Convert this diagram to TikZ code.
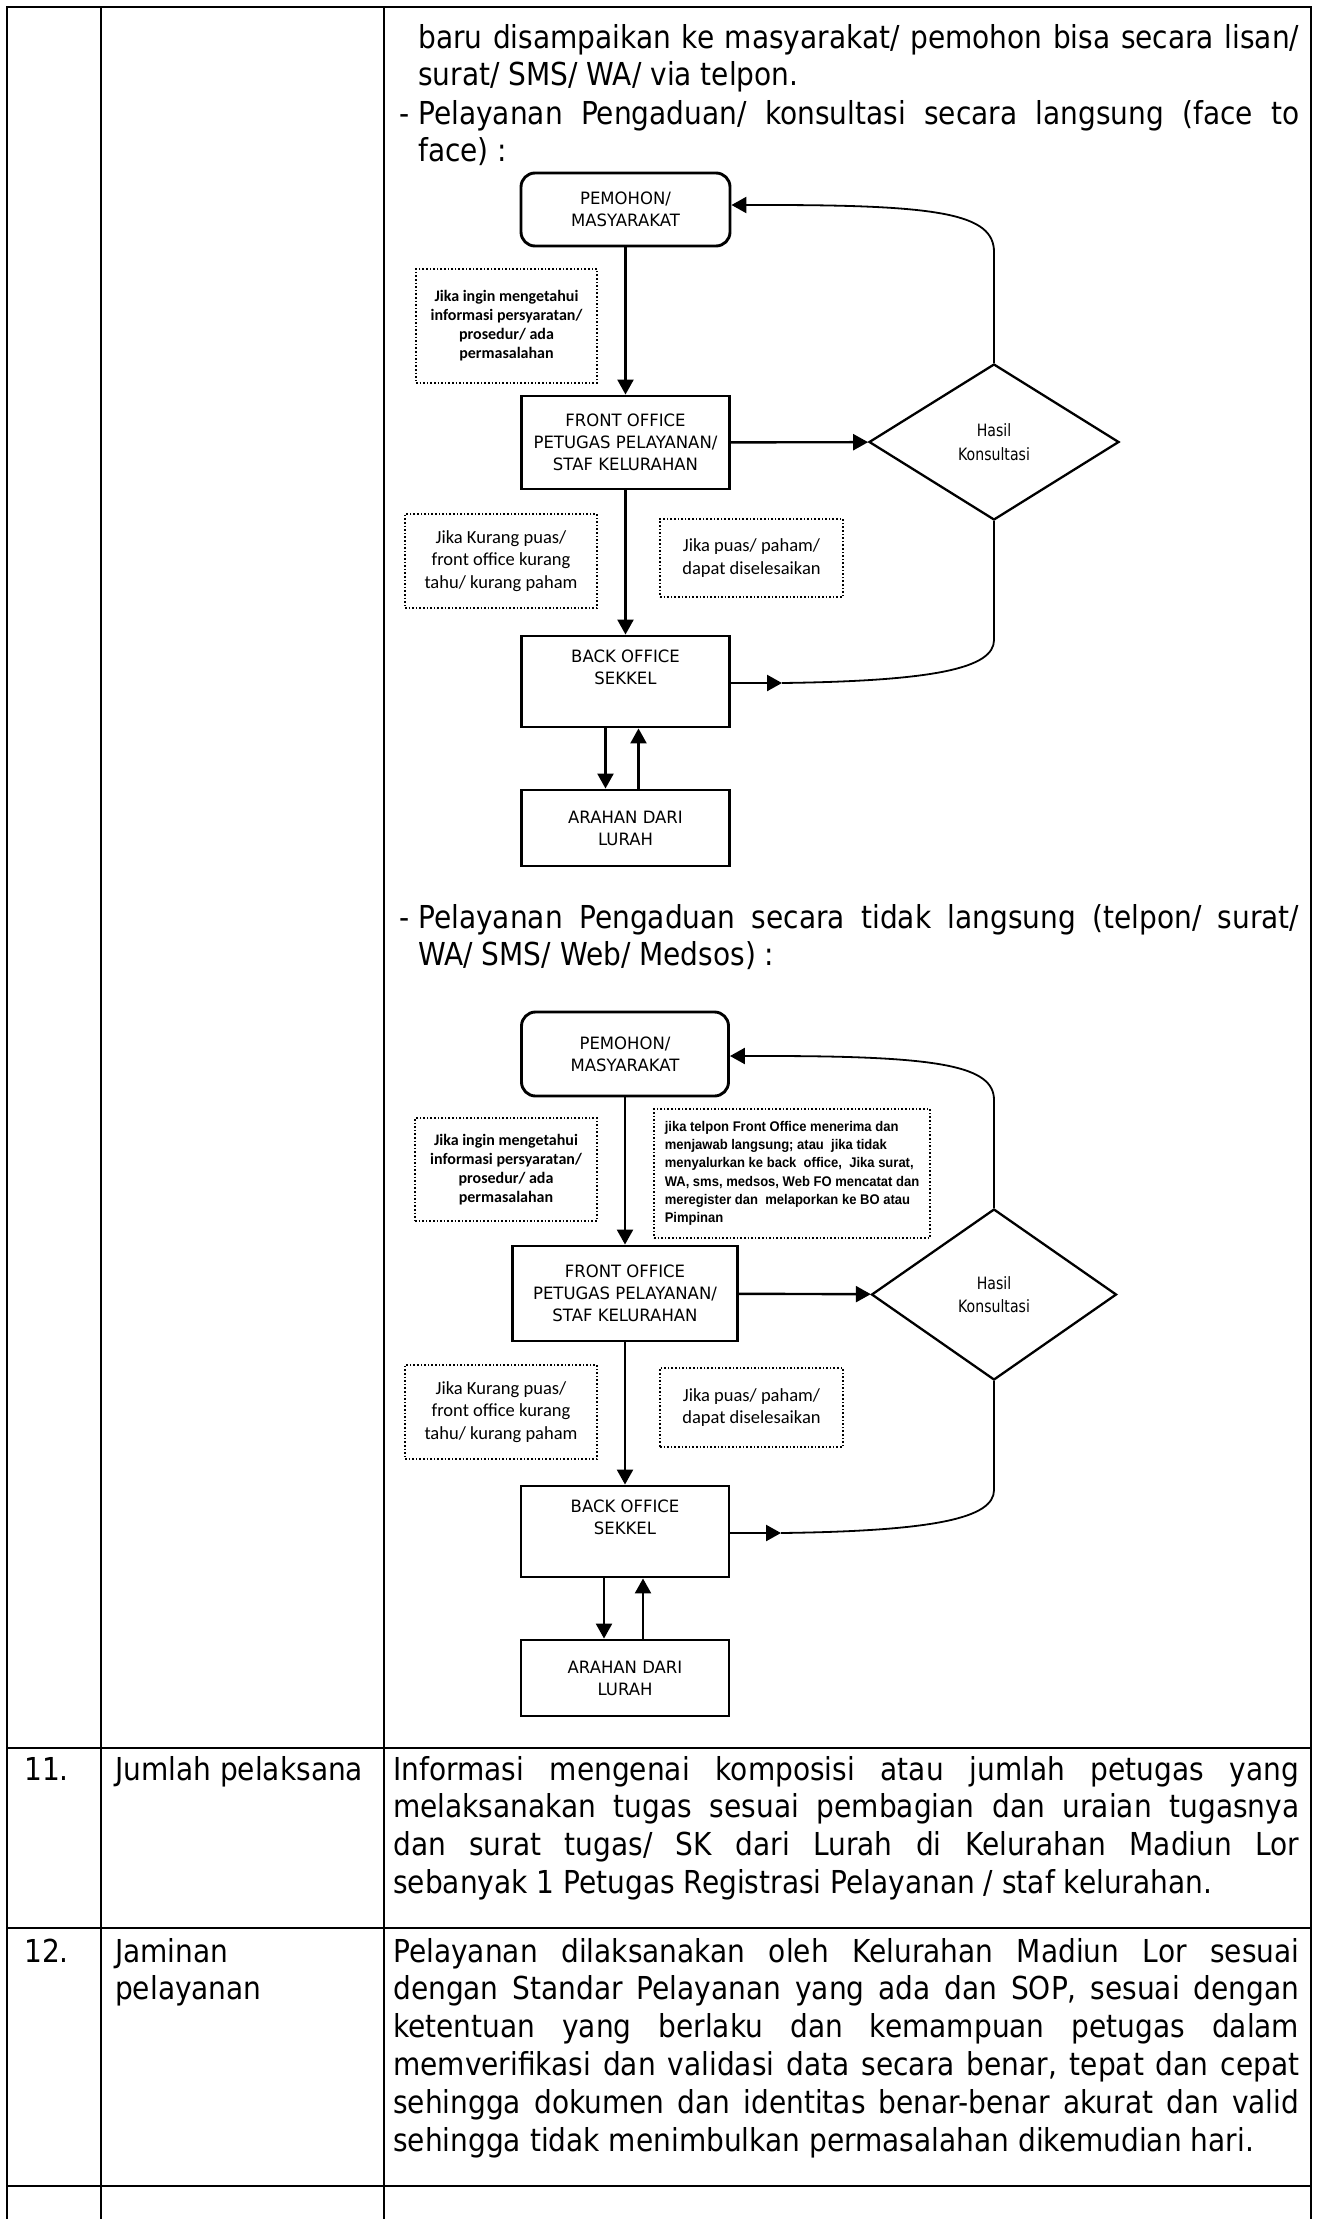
\documentclass[tikz,border=0pt]{standalone}
\usepackage{fontspec}
\usetikzlibrary{arrows.meta,shapes.geometric}
\newfontfamily\tahomafont[FakeStretch=0.887]{DejaVu Sans}
\newfontfamily\dinfont[FakeStretch=0.97]{DejaVu Sans}
\newfontfamily\hasilfont[FakeStretch=0.83]{DejaVu Sans}
\newfontfamily\calfont{Carlito}
\newfontfamily\narrowfont[FakeStretch=0.93]{Liberation Sans}
\newcommand\bodytext{\tahomafont\fontsize{31.6}{37.8}\selectfont}
\newcommand\boxtext{\dinfont\fontsize{17}{22}\selectfont}
\newcommand\hasiltext{\hasilfont\fontsize{17}{23.5}\selectfont}
\newcommand\notebold{\calfont\bfseries\fontsize{16}{19}\selectfont}
\newcommand\notetext{\calfont\fontsize{18.5}{22.5}\selectfont}
\newcommand\narrowtext{\narrowfont\bfseries\fontsize{14}{18.3}\selectfont}
\begin{document}
\begin{tikzpicture}[x=1pt,y=-1pt,
	rule/.style={line width=2.7pt},
	colrule/.style={line width=2.3pt},
	box/.style={draw,line width=2.9pt,align=center,inner sep=0pt,font=\boxtext},
	term/.style={box,rounded corners=14pt},
	decide/.style={draw,diamond,line width=2.3pt,align=center,inner sep=0pt,font=\hasiltext},
	note/.style={draw,dotted,line width=1.6pt,align=center,inner sep=0pt},
	arr/.style={line width=2.4pt,-{Triangle[width=16pt,length=15pt]}},
	loopline/.style={line width=1.8pt},
	para/.style={anchor=north west,inner sep=0pt,align=justify,font=\bodytext},
	cell/.style={anchor=base west,inner sep=0pt,font=\bodytext}]
	\useasboundingbox (0,0) rectangle (1318,2219);
	% table
	\draw[rule] (7,2219) -- (7,7) -- (1311,7) -- (1311,2219);
	\draw[colrule] (101,7) -- (101,2219);
	\draw[colrule] (384,7) -- (384,2219);
	\draw[rule] (7,1748) -- (1311,1748);
	\draw[rule] (7,1928) -- (1311,1928);
	\draw[rule] (7,2186) -- (1311,2186);
	% row 10 text
	\node[para,text width=881pt] (txt10a) at (418,21.5) {\strut baru disampaikan ke masyarakat/ pemohon bisa secara lisan/\linebreak surat/ SMS/ WA/ via telpon.};
	\node[cell] (dash1) at (399,124) {-};
	\node[para,text width=881pt] (txt10b) at (418,97.5) {\strut Pelayanan Pengaduan/ konsultasi secara langsung (face to\linebreak face) :};
	\node[cell] (dash2) at (399,928) {-};
	\node[para,text width=881pt] (txt10c) at (418,901.5) {\strut Pelayanan Pengaduan secara tidak langsung (telpon/ surat/\linebreak WA/ SMS/ Web/ Medsos) :};
	% flow 1
	\node[term,minimum width=209pt,minimum height=73pt] (pem1) at (625.5,209.5) {PEMOHON/\\MASYARAKAT};
	\node[box,minimum width=208pt,minimum height=93pt] (fo1) at (625.5,442.5) {FRONT OFFICE\\PETUGAS PELAYANAN/\\STAF KELURAHAN};
	\node[decide,minimum width=250pt,minimum height=156pt] (dia1) at (994,442) {Hasil\\Konsultasi};
	\node[box,minimum width=208pt,minimum height=91pt] (bo1) at (625.5,681.5) {BACK OFFICE\\SEKKEL\\\strut};
	\node[box,minimum width=208pt,minimum height=76pt] (ara1) at (625.5,828) {ARAHAN DARI\\LURAH};
	\node[note,font=\notebold,minimum width=181pt,minimum height=114pt] (ask1) at (506.5,326) {Jika ingin mengetahui\\informasi persyaratan/\\prosedur/ ada\\permasalahan};
	\node[note,font=\notetext,minimum width=192pt,minimum height=94pt] (bad1) at (501,561) {Jika Kurang puas/\\front office kurang\\tahu/ kurang paham};
	\node[note,font=\notetext,minimum width=183pt,minimum height=78pt] (ok1) at (751.5,558) {Jika puas/ paham/\\dapat diselesaikan};
	\draw[arr] (pem1) -- (fo1);
	\draw[arr] (fo1) -- (dia1);
	\draw[arr] (fo1) -- (bo1);
	\draw[arr] ([xshift=-20pt]bo1.south) -- ([xshift=-20pt]ara1.north);
	\draw[arr] ([xshift=13pt]ara1.north) -- ([xshift=13pt]bo1.south);
	\coordinate (back1) at (768,205);
	\draw[loopline] (dia1.north) -- (994,252) .. controls (994,214) and (940,205) .. (back1);
	\draw[arr] (back1) -- (back1 -| pem1.east);
	\coordinate (ret1) at (782,683);
	\draw[arr] (ret1 -| bo1.east) -- (ret1);
	\draw[loopline] (ret1) .. controls (935,681) and (994,668) .. (994,640) -- (dia1.south);
	% flow 2
	\node[term,minimum width=207pt,minimum height=84pt] (pem2) at (625,1054) {PEMOHON/\\MASYARAKAT};
	\node[box,minimum width=225pt,minimum height=95pt] (fo2) at (625,1293.5) {FRONT OFFICE\\PETUGAS PELAYANAN/\\STAF KELURAHAN};
	\node[decide,minimum width=245pt,minimum height=171pt] (dia2) at (994,1294.5) {Hasil\\Konsultasi};
	\node[box,minimum width=208pt,minimum height=91pt] (bo2) at (625,1531.5) {BACK OFFICE\\SEKKEL\\\strut};
	\node[box,minimum width=208pt,minimum height=76pt] (ara2) at (625,1678) {ARAHAN DARI\\LURAH};
	\node[note,font=\notebold,minimum width=182pt,minimum height=103pt] (ask2) at (506,1169.5) {Jika ingin mengetahui\\informasi persyaratan/\\prosedur/ ada\\permasalahan};
	\node[note,font=\narrowtext,align=left,minimum width=276pt,minimum height=129pt] (tel2) at (792,1173.5) {jika telpon Front Office menerima dan\\menjawab langsung; atau\ \ jika tidak\\menyalurkan ke back\ \ office,\ \ Jika surat,\\WA, sms, medsos, Web FO mencatat dan\\meregister dan\ \ melaporkan ke BO atau\\Pimpinan};
	\node[note,font=\notetext,minimum width=192pt,minimum height=94pt] (bad2) at (501,1412) {Jika Kurang puas/\\front office kurang\\tahu/ kurang paham};
	\node[note,font=\notetext,minimum width=183pt,minimum height=79pt] (ok2) at (751.5,1407.5) {Jika puas/ paham/\\dapat diselesaikan};
	\draw[arr] (pem2) -- (fo2);
	\draw[arr] (fo2) -- (dia2);
	\draw[arr] (fo2) -- (bo2);
	\draw[arr] ([xshift=-21pt]bo2.south) -- ([xshift=-21pt]ara2.north);
	\draw[arr] ([xshift=18pt]ara2.north) -- ([xshift=18pt]bo2.south);
	\coordinate (back2) at (768,1056);
	\draw[loopline] (dia2.north) -- (994,1100) .. controls (994,1066) and (940,1056) .. (back2);
	\draw[arr] (back2) -- (back2 -| pem2.east);
	\coordinate (ret2) at (781,1533);
	\draw[arr] (ret2 -| bo2.east) -- (ret2);
	\draw[loopline] (ret2) .. controls (935,1531) and (994,1518) .. (994,1490) -- (dia2.south);
	% rows 11 and 12
	\node[cell] (no11) at (24,1780) {11.};
	\node[cell] (lbl11) at (115,1780) {Jumlah pelaksana};
	\node[para,text width=906pt] (txt11) at (393,1753.5) {\strut Informasi mengenai komposisi atau jumlah petugas yang\linebreak melaksanakan tugas sesuai pembagian dan uraian tugasnya\linebreak dan surat tugas/ SK dari Lurah di Kelurahan Madiun Lor\linebreak sebanyak 1 Petugas Registrasi Pelayanan / staf kelurahan.};
	\node[cell] (no12) at (24,1962) {12.};
	\node[para,align=left] (lbl12) at (115,1935.5) {\strut Jaminan\\pelayanan};
	\node[para,text width=906pt] (txt12) at (393,1935.5) {\strut Pelayanan dilaksanakan oleh Kelurahan Madiun Lor sesuai\linebreak dengan Standar Pelayanan yang ada dan SOP, sesuai dengan\linebreak ketentuan yang berlaku dan kemampuan petugas dalam\linebreak memverifikasi dan validasi data secara benar, tepat dan cepat\linebreak sehingga dokumen dan identitas benar-benar akurat dan valid\linebreak sehingga tidak menimbulkan permasalahan dikemudian hari.};
\end{tikzpicture}
\end{document}
